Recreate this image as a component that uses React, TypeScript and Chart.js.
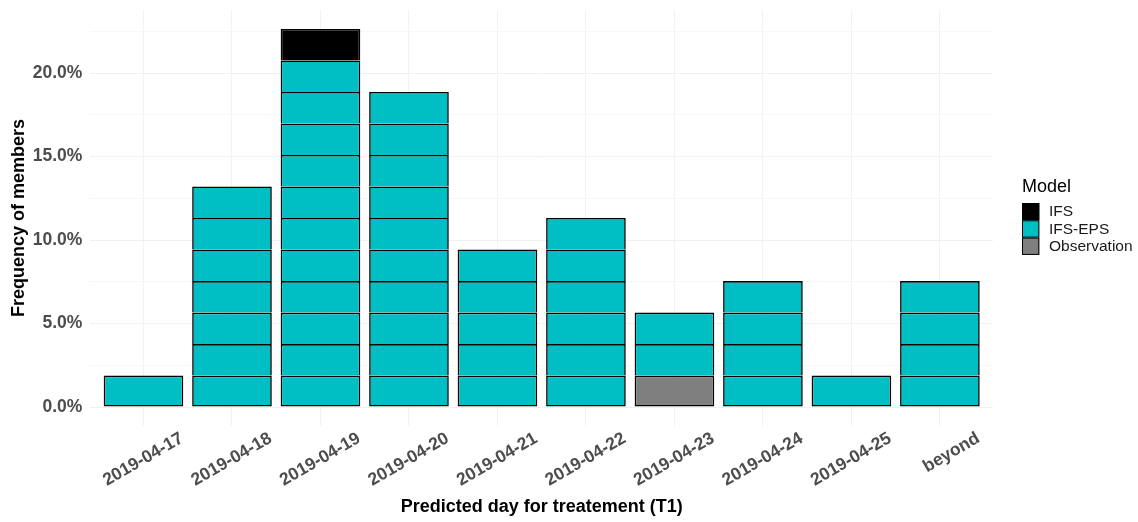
import React, { useEffect, useRef } from 'react';
import { Chart, registerables } from 'chart.js';

Chart.register(...registerables);

// ---- data ----
const categories = [
  '2019-04-17', '2019-04-18', '2019-04-19', '2019-04-20', '2019-04-21',
  '2019-04-22', '2019-04-23', '2019-04-24', '2019-04-25', 'beyond',
];
// number of members predicting each day
const ifsEpsCounts = [1, 7, 11, 10, 5, 6, 2, 4, 1, 4];
const ifsCounts = [0, 0, 1, 0, 0, 0, 0, 0, 0, 0];
const observationCounts = [0, 0, 0, 0, 0, 0, 1, 0, 0, 0];
const totalMembers = 53;

const yMajorTicks = [0, 5, 10, 15, 20];
const yMinorTicks = [2.5, 7.5, 12.5, 17.5, 22.5];

const legendTitle = 'Model';
const legendLabels = ['IFS', 'IFS-EPS', 'Observation'];
const seriesColors: Record<string, string> = {
  IFS: '#000000',
  'IFS-EPS': '#00BFC4',
  Observation: '#7F7F7F',
};

const FONT = "'Liberation Sans', Arial, Helvetica, sans-serif";
const LW = 1.6;

export default function App() {
  const canvasRef = useRef<HTMLCanvasElement | null>(null);

  useEffect(() => {
    const canvas = canvasRef.current;
    if (!canvas) return;
    const share = 100 / totalMembers;

    // order from bottom to top of each bar
    const groups: { label: string; counts: number[] }[] = [
      { label: 'Observation', counts: observationCounts },
      { label: 'IFS-EPS', counts: ifsEpsCounts },
      { label: 'IFS', counts: ifsCounts },
    ];

    const datasets: any[] = [];
    groups.forEach((g, gi) => {
      const maxCount = Math.max(...g.counts);
      for (let k = 0; k < maxCount; k++) {
        const isBottom = g.counts.map((c, i) => {
          if (k > 0) return false;
          for (let j = 0; j < gi; j++) if (groups[j].counts[i] > 0) return false;
          return true;
        });
        datasets.push({
          label: g.label,
          data: g.counts.map((c, i) => ({ x: i, y: c > k ? share : null })),
          backgroundColor: seriesColors[g.label],
          borderColor: '#000000',
          borderSkipped: false,
          borderWidth: (ctx: any) => ({
            top: LW,
            left: LW,
            right: LW,
            bottom: isBottom[ctx.dataIndex] ? LW : 0,
          }),
          barPercentage: 0.9,
          categoryPercentage: 1,
          stack: 'members',
        });
      }
    });

    const maxTotal = Math.max(
      ...categories.map((_, i) => (ifsEpsCounts[i] + ifsCounts[i] + observationCounts[i]) * share)
    );
    const pad = maxTotal * 0.05;

    const legendPlugin = {
      id: 'ggLegend',
      afterDraw(chart: any) {
        const ctx = chart.ctx;
        ctx.save();
        const x0 = 1022;
        ctx.fillStyle = '#000000';
        ctx.font = `18px ${FONT}`;
        ctx.textAlign = 'left';
        ctx.textBaseline = 'middle';
        ctx.fillText(legendTitle, x0, 187);
        const keyH = 17.3;
        const keyW = 17.3;
        let y = 203;
        legendLabels.forEach((lab) => {
          ctx.fillStyle = seriesColors[lab];
          ctx.fillRect(x0, y, keyW, keyH);
          ctx.strokeStyle = '#000000';
          ctx.lineWidth = 1;
          ctx.strokeRect(x0 + 0.5, y + 0.5, keyW - 1, keyH - 1);
          ctx.fillStyle = '#1A1A1A';
          ctx.font = `15.5px ${FONT}`;
          ctx.fillText(lab, 1049, y + keyH / 2 + 0.5);
          y += keyH;
        });
        ctx.restore();
      },
    };

    const chart = new Chart(canvas, {
      type: 'bar',
      data: { datasets },
      plugins: [legendPlugin],
      options: {
        animation: false,
        responsive: false,
        events: [],
        layout: { padding: { top: 10, right: 145, left: 0, bottom: 0 } },
        plugins: {
          legend: { display: false },
          tooltip: { enabled: false },
        },
        scales: {
          x: {
            type: 'linear',
            stacked: true,
            offset: false,
            min: -0.6,
            max: categories.length - 1 + 0.6,
            afterBuildTicks: (s: any) => {
              s.ticks = categories.map((_, i) => ({ value: i }));
            },
            afterFit: (s: any) => {
              s.height = 96;
              s.paddingLeft = 0;
              s.paddingRight = 0;
            },
            ticks: {
              autoSkip: false,
              minRotation: 30,
              maxRotation: 30,
              labelOffset: 38.5,
              padding: 2,
              color: '#4D4D4D',
              font: { family: FONT, size: 17.5, weight: 'bold' },
              callback: (v: any) => categories[Math.round(Number(v))] ?? '',
            },
            grid: { color: '#F2F2F2', lineWidth: 1, drawTicks: false, offset: false },
            border: { display: false },
            title: {
              display: true,
              text: 'Predicted day for treatement (T1)',
              color: '#000000',
              font: { family: FONT, size: 18, weight: 'bold' },
              padding: { top: 0, bottom: 4 },
            },
          },
          y: {
            type: 'linear',
            stacked: true,
            min: -pad,
            max: maxTotal + pad,
            afterBuildTicks: (s: any) => {
              s.ticks = [...yMajorTicks, ...yMinorTicks]
                .sort((a, b) => a - b)
                .map((v) => ({ value: v }));
            },
            afterFit: (s: any) => {
              s.width = 90.4;
              s.paddingTop = 0;
              s.paddingBottom = 0;
            },
            ticks: {
              padding: 8,
              color: '#4D4D4D',
              font: { family: FONT, size: 17.5, weight: 'bold' },
              callback: (v: any) =>
                yMajorTicks.includes(Number(v)) ? Number(v).toFixed(1) + '%' : '',
            },
            grid: {
              drawTicks: false,
              color: (ctx: any) =>
                yMajorTicks.includes(ctx.tick?.value) ? '#F0F0F0' : '#F7F7F7',
              lineWidth: 1,
            },
            border: { display: false },
            title: {
              display: true,
              text: 'Frequency of members',
              color: '#000000',
              font: { family: FONT, size: 18, weight: 'bold' },
              padding: { top: 8, bottom: 0 },
            },
          },
        },
      } as any,
    });

    return () => chart.destroy();
  }, []);

  return (
    <div style={{ position: 'fixed', left: 0, top: 0, width: 1138, height: 522, background: '#ffffff' }}>
      <canvas ref={canvasRef} width={1138} height={522} style={{ width: 1138, height: 522, display: 'block' }} />
    </div>
  );
}
